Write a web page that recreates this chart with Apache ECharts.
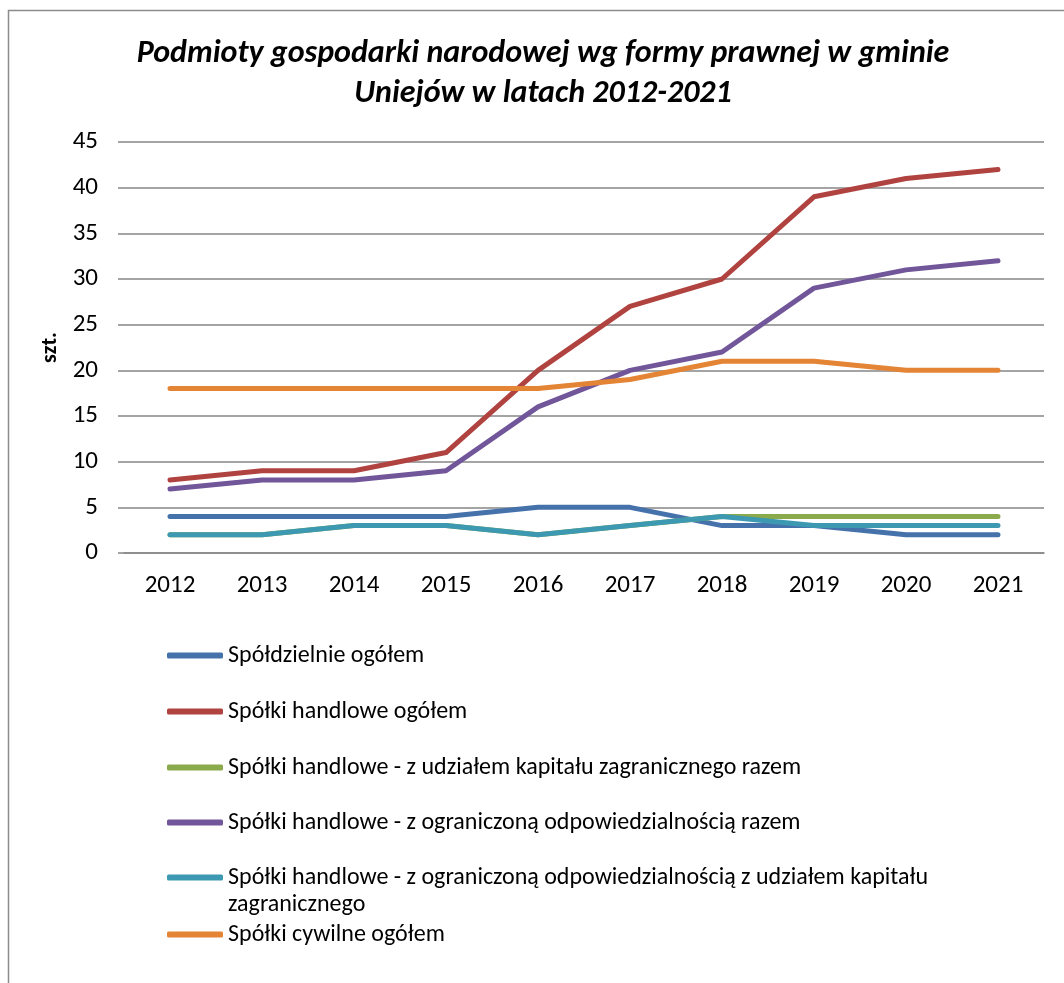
<!DOCTYPE html>
<html>
<head>
<meta charset="utf-8">
<script src="https://cdn.jsdelivr.net/npm/echarts@6/dist/echarts.min.js"></script>
<style>
  html, body { margin: 0; padding: 0; background: #fff; }
  #chart { width: 1064px; height: 983px; }
</style>
</head>
<body>
<div id="chart"></div>
<script>
const years = ['2012', '2013', '2014', '2015', '2016', '2017', '2018', '2019', '2020', '2021']
const spoldzielnie = [4, 4, 4, 4, 5, 5, 3, 3, 2, 2]
const handloweOgolem = [8, 9, 9, 11, 20, 27, 30, 39, 41, 42]
const handloweZagr = [2, 2, 3, 3, 2, 3, 4, 4, 4, 4]
const handloweZoo = [7, 8, 8, 9, 16, 20, 22, 29, 31, 32]
const handloweZooZagr = [2, 2, 3, 3, 2, 3, 4, 3, 3, 3]
const cywilne = [18, 18, 18, 18, 18, 19, 21, 21, 20, 20]

const names = [
  'Spółdzielnie ogółem',
  'Spółki handlowe ogółem',
  'Spółki handlowe - z udziałem kapitału zagranicznego razem',
  'Spółki handlowe - z ograniczoną odpowiedzialnością razem',
  'Spółki handlowe - z ograniczoną odpowiedzialnością z udziałem kapitału zagranicznego',
  'Spółki cywilne ogółem',
]
const values = [spoldzielnie, handloweOgolem, handloweZagr, handloweZoo, handloweZooZagr, cywilne]
const colors = ['#4672AC', '#B0433F', '#8BAA4B', '#71569A', '#3D99B1', '#E48435']
// 5th entry wraps onto two lines, its icon sits on the first one
const legendTops = [637, 693, 749, 804, 832, 916]

const font = 'Carlito, "Liberation Sans Narrow", "Open Sans", sans-serif'

const chart = echarts.init(document.getElementById('chart'))

chart.setOption({
  animation: false,
  title: {
    text: 'Podmioty gospodarki narodowej wg formy prawnej w gminie\nUniejów w latach 2012-2021',
    left: 538,
    textAlign: 'center',
    top: 29,
    textStyle: {
      fontFamily: font,
      fontSize: 32,
      fontWeight: 'bold',
      fontStyle: 'italic',
      color: '#000',
      lineHeight: 40,
    },
  },
  graphic: [
    {
      type: 'rect',
      shape: { x: 8.5, y: 10.5, width: 1100, height: 1000 },
      style: { fill: 'none', stroke: '#8c8c8c', lineWidth: 1.5 },
      silent: true,
    },
  ],
  grid: { left: 124, right: 20, top: 142, bottom: 430 },
  xAxis: {
    type: 'category',
    data: years,
    boundaryGap: true,
    axisLine: { lineStyle: { color: '#868686', width: 1.5 } },
    axisTick: { show: false },
    axisLabel: { color: '#000', fontFamily: font, fontSize: 25, margin: 20 },
  },
  yAxis: {
    type: 'value',
    min: 0,
    max: 45,
    interval: 5,
    name: 'szt.',
    nameLocation: 'middle',
    nameGap: 63,
    nameTextStyle: { color: '#000', fontFamily: font, fontSize: 22, fontWeight: 'bold' },
    axisLine: { show: false },
    axisTick: { show: true, length: 6, lineStyle: { color: '#868686', width: 1.5 } },
    axisLabel: { color: '#000', fontFamily: font, fontSize: 25, margin: 26 },
    splitLine: { lineStyle: { color: '#868686', width: 1.5 } },
  },
  legend: names.map((n, i) => ({
    data: [n],
    orient: 'vertical',
    left: 162,
    top: legendTops[i],
    itemWidth: 56,
    itemHeight: 6,
    icon: 'roundRect',
    selectedMode: false,
    // leading empty line keeps the icon level with the first text line
    formatter: (name) =>
      name.length > 80
        ? '\nSpółki handlowe - z ograniczoną odpowiedzialnością z udziałem kapitału\nzagranicznego'
        : name,
    textStyle: {
      color: '#000',
      fontFamily: font,
      fontSize: 24,
      lineHeight: 27,
    },
  })),
  series: names.map((n, i) => ({
    name: n,
    type: 'line',
    data: values[i],
    symbol: 'none',
    color: colors[i],
    lineStyle: { width: 5, color: colors[i], cap: 'round', join: 'round' },
  })),
})
</script>
</body>
</html>
